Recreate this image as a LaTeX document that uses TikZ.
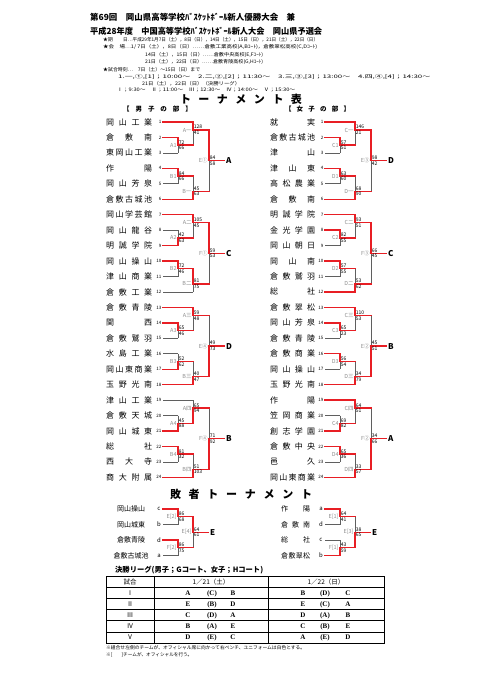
\documentclass[tikz,border=0pt]{standalone}
\usepackage{fontspec}
\setmainfont{Noto Sans CJK JP}
\newfontfamily\serifl{Liberation Serif}
\usepackage{graphicx}
\pgfdeclarelayer{bg}
\pgfsetlayers{bg,main}
\definecolor{wred}{RGB}{232,30,36}
\definecolor{lgray}{RGB}{95,95,95}
\definecolor{labc}{RGB}{140,140,140}
\newcount\ndc
\def\parsem#1/#2/#3\relax{\def\ml{#1}\def\mta{#2}\def\mtb{#3}}
\def\dd{15.45}
\def\spreadit#1#2\endsp{#1\ifx\relax#2\relax\else\hfill\spreadit#2\endsp\fi}
\newcommand{\hl}[4]{\ifnum#1=1\relax\draw[win] ({#2},{#4}) -- ({#3},{#4});\else\begin{pgfonlayer}{bg}\draw[lose] ({#2},{#4}) -- ({#3},{#4});\end{pgfonlayer}\fi}
\newcommand{\vm}[8]{%
  \ifnum#5=1\relax
    \draw[win] ({#1},{#2}) -- ({#1},{#4});
    \begin{pgfonlayer}{bg}\draw[lose] ({#1},{#4}) -- ({#1},{#3});\end{pgfonlayer}
  \else
    \begin{pgfonlayer}{bg}\draw[lose] ({#1},{#2}) -- ({#1},{#4});\end{pgfonlayer}
    \draw[win] ({#1},{#4}) -- ({#1},{#3});
  \fi
  \node[rlab] at ({#1-1.2},{#4}) {#6};
  \node[score,anchor=south west] at ({#1+0.4},{#4-0.6}) {#7};
  \node[score,anchor=north west] at ({#1+0.4},{#4+0.6}) {#8};
}
\newcommand{\blk}[8]{%
 \def\Y{#1}\def\dx{#2}%
 \parsem#4\relax\let\qlA\ml\let\qaA\mta\let\qbA\mtb\ifnum\mta>\mtb\relax\def\rA{1}\else\def\rA{0}\fi
 \parsem#5\relax\let\qlAA\ml\let\qaAA\mta\let\qbAA\mtb\ifnum\mta>\mtb\relax\def\rAA{1}\else\def\rAA{0}\fi
 \parsem#6\relax\let\qlB\ml\let\qaB\mta\let\qbB\mtb\ifnum\mta>\mtb\relax\def\rB{1}\else\def\rB{0}\fi
 \parsem#7\relax\let\qlBB\ml\let\qaBB\mta\let\qbBB\mtb\ifnum\mta>\mtb\relax\def\rBB{1}\else\def\rBB{0}\fi
 \parsem#8\relax\let\qlE\ml\let\qaE\mta\let\qbE\mtb\ifnum\mta>\mtb\relax\def\rE{1}\else\def\rE{0}\fi
 \hl{\rAA}{163+\dx}{193+\dx}{\Y}
 \hl{\rA}{163+\dx}{178+\dx}{\Y+\dd}
 \hl{\the\numexpr1-\rA\relax}{163+\dx}{178+\dx}{\Y+2*\dd}
 \hl{\rB}{163+\dx}{178+\dx}{\Y+3*\dd}
 \hl{\the\numexpr1-\rB\relax}{163+\dx}{178+\dx}{\Y+4*\dd}
 \hl{\the\numexpr1-\rBB\relax}{163+\dx}{193+\dx}{\Y+5*\dd}
 \hl{1}{178+\dx}{193+\dx}{\Y+1.5*\dd}
 \hl{1}{193+\dx}{209+\dx}{\Y+8}
 \hl{1}{178+\dx}{193+\dx}{\Y+3.5*\dd}
 \hl{1}{193+\dx}{209+\dx}{\Y+5*\dd-8}
 \hl{1}{209+\dx}{224+\dx}{\Y+2.5*\dd}
 \vm{178+\dx}{\Y+\dd}{\Y+2*\dd}{\Y+1.5*\dd}{\rA}{\qlA}{\qaA}{\qbA}
 \vm{193+\dx}{\Y}{\Y+1.5*\dd}{\Y+8}{\rAA}{\qlAA}{\qaAA}{\qbAA}
 \vm{178+\dx}{\Y+3*\dd}{\Y+4*\dd}{\Y+3.5*\dd}{\rB}{\qlB}{\qaB}{\qbB}
 \vm{193+\dx}{\Y+3.5*\dd}{\Y+5*\dd}{\Y+5*\dd-8}{\rBB}{\qlBB}{\qaBB}{\qbBB}
 \vm{209+\dx}{\Y+8}{\Y+5*\dd-8}{\Y+2.5*\dd}{\rE}{\qlE}{\qaE}{\qbE}
 \node[outl] at ({226+\dx},{\Y+2.5*\dd}) {#3};
}
\newcommand{\tmm}[2]{\node[tname] at (106,{122+(#1-1)*\dd}) {\makebox[46pt][s]{\expandafter\spreadit#2\endsp}};
  \node[seed] at (161.5,{122+(#1-1)*\dd}) {#1};}
\newcommand{\tmw}[2]{\node[tname] at (270,{122+(#1-1)*\dd}) {\makebox[45pt][s]{\expandafter\spreadit#2\endsp}};
  \node[seed] at (323.5,{122+(#1-1)*\dd}) {#1};}
\begin{document}
\begin{tikzpicture}[x=1pt,y=-1pt,
  autoname/.code={\global\advance\ndc by 1\relax\edef\tmpnm{nd\the\ndc}\pgfkeysalso{/tikz/name/.expand once=\tmpnm}},
  every node/.append style={autoname},
  win/.style={draw=wred,line width=1.4pt,line cap=rect},
  lose/.style={draw=lgray,line width=0.7pt},
  tname/.style={font=\fontsize{8}{8}\selectfont,inner sep=0pt,anchor=west},
  seed/.style={font=\fontsize{4.5}{5}\selectfont,inner sep=0pt,anchor=east},
  score/.style={font=\fontsize{5}{5}\selectfont,inner sep=0.2pt},
  rlab/.style={font=\fontsize{5.5}{6}\selectfont,text=labc,inner sep=0pt,anchor=east},
  outl/.style={font=\bfseries\fontsize{8}{8}\selectfont,inner sep=0pt,anchor=west},
  hd/.style={font=\bfseries\fontsize{8.4}{9}\selectfont,inner sep=0pt,anchor=west},
  sm/.style={font=\fontsize{4.8}{5}\selectfont,inner sep=0pt,anchor=west},
  ttl/.style={font=\bfseries\fontsize{11}{11}\selectfont,inner sep=0pt},
  sub/.style={font=\bfseries\fontsize{6.5}{7}\selectfont,inner sep=0pt},
  lname/.style={font=\fontsize{7}{7}\selectfont,inner sep=0pt},
  lett/.style={font=\fontsize{6}{6}\selectfont,inner sep=0pt},
  tcell/.style={font=\fontsize{6.5}{7}\selectfont,inner sep=0pt,anchor=base},
  tlet/.style={font=\serifl\bfseries\fontsize{7}{7}\selectfont,inner sep=0pt,anchor=base},
  fn/.style={font=\fontsize{4.7}{5}\selectfont,inner sep=0pt,anchor=west}]
\useasboundingbox (0,0) rectangle (481,680);
% ---------- header ----------
\node[hd] at (90,17) {\resizebox{205pt}{\height}{第69回　岡山県高等学校ﾊﾞｽｹｯﾄﾎﾞｰﾙ新人優勝大会　兼}};
\node[hd] at (90,31) {\resizebox{232pt}{\height}{平成28年度　中国高等学校ﾊﾞｽｹｯﾄﾎﾞｰﾙ新人大会　岡山県予選会}};
\node[sm] at (103,39.5) {★期};
\node[sm] at (123,39.5) {\resizebox{195pt}{\height}{日…平成29年1月7日（土），8日（日），14日（土），15日（日），21日（土），22日（日）}};
\node[sm] at (103,47) {\resizebox{214pt}{\height}{★会　場…1/ 7日（土），8日（日）……倉敷工業高校(A,Bｺｰﾄ)，倉敷翠松高校(C,Dｺｰﾄ)}};
\node[sm] at (145,54.5) {\resizebox{118pt}{\height}{14日（土），15日（日）……倉敷中央高校(E,Fｺｰﾄ)}};
\node[sm] at (145,62) {\resizebox{118pt}{\height}{21日（土），22日（日）……倉敷青陵高校(G,Hｺｰﾄ)}};
\node[sm] at (103,69.5) {\resizebox{97pt}{\height}{★試合時刻…　7日（土）～15日（日）まで}};
\node[sm] at (118,77) {\resizebox{312pt}{\height}{1.一,①,[1]；10:00～　2.二,②,[2]；11:30～　3.三,③,[3]；13:00～　4.四,④,[4]；14:30～}};
\node[sm] at (142,84) {\resizebox{98pt}{\height}{21日（土），22日（日）（決勝リーグ）}};
\node[sm] at (117,90) {\resizebox{178pt}{\height}{Ⅰ；9:30～　Ⅱ；11:00～　Ⅲ；12:30～　Ⅳ；14:00～　Ⅴ；15:30～}};
% ---------- titles ----------
\node[ttl] at (241,99.5) {\makebox[122pt][s]{\spreadit トーナメント表\endsp}};
\node[sub] at (157.5,109) {\makebox[69pt][s]{\spreadit 【男子の部】\endsp}};
\node[sub] at (317.5,109) {\makebox[65pt][s]{\spreadit 【女子の部】\endsp}};
% ---------- teams ----------
\foreach \n/\s in {1/岡山工業,2/倉敷南,3/東岡山工業,4/作陽,5/岡山芳泉,6/倉敷古城池,7/岡山学芸館,8/岡山龍谷,9/明誠学院,10/岡山操山,11/津山商業,12/倉敷工業,13/倉敷青陵,14/関西,15/倉敷鷲羽,16/水島工業,17/岡山東商業,18/玉野光南,19/津山工業,20/倉敷天城,21/岡山城東,22/総社,23/西大寺,24/商大附属}{\tmm{\n}{\s}}
\foreach \n/\s in {1/就実,2/倉敷古城池,3/津山,4/津山東,5/高松農業,6/倉敷南,7/明誠学院,8/金光学園,9/岡山朝日,10/岡山南,11/倉敷鷲羽,12/総社,13/倉敷翠松,14/岡山芳泉,15/倉敷青陵,16/倉敷商業,17/岡山操山,18/玉野光南,19/作陽,20/笠岡商業,21/創志学園,22/倉敷中央,23/邑久,24/岡山東商業}{\tmw{\n}{\s}}
% ---------- brackets ----------
\blk{122}{0}{A}{A1/72/66}{A一/128/41}{B1/84/66}{B一/45/63}{E①/84/58}
\blk{214.7}{0}{C}{A2/42/63}{A二/105/45}{B2/72/46}{B二/81/75}{F①/59/53}
\blk{307.4}{0}{D}{A3/65/46}{A三/59/48}{B3/52/62}{B三/40/47}{E④/49/73}
\blk{400.1}{0}{B}{A4/45/88}{A四/65/94}{B4/81/32}{B四/51/103}{F④/71/92}
\blk{122}{162}{D}{C1/57/51}{C一/146/21}{D1/63/60}{D一/68/90}{E③/98/42}
\blk{214.7}{162}{C}{C2/82/55}{C二/93/51}{D2/57/55}{D二/53/62}{F③/66/45}
\blk{307.4}{162}{B}{C3/65/23}{C三/110/53}{D3/56/54}{D三/34/79}{E②/45/51}
\blk{400.1}{162}{A}{C4/69/82}{C四/64/51}{D4/65/36}{D四/33/57}{F②/34/66}
% ---------- losers' tournament ----------
\node[ttl] at (241,494) {\makebox[142pt][s]{\spreadit 敗者トーナメント\endsp}};
\node[lname] at (131,509) {岡山操山};
\node[lname] at (131,524.5) {岡山城東};
\node[lname] at (131,540) {倉敷青陵};
\node[lname] at (131,555.5) {倉敷古城池};
\node[lett] at (159,509) {c};
\node[lett] at (159,524.5) {b};
\node[lett] at (159,540) {d};
\node[lett] at (159,555.5) {a};
\hl{1}{163}{178}{509}
\hl{0}{163}{178}{524.5}
\hl{1}{163}{178}{540}
\hl{0}{163}{178}{555.5}
\hl{1}{178}{193}{516.75}
\hl{1}{178}{193}{547.75}
\hl{1}{193}{208}{532.25}
\vm{178}{509}{524.5}{516.75}{1}{E[2]}{86}{68}
\vm{178}{540}{555.5}{547.75}{1}{F[2]}{86}{75}
\vm{193}{516.75}{547.75}{532.25}{1}{E[4]}{64}{61}
\node[outl] at (210,532.25) {E};
\node[lname,anchor=west] at (281,509) {\makebox[29pt][s]{\spreadit 作陽\endsp}};
\node[lname,anchor=west] at (281,524.5) {\makebox[29pt][s]{\spreadit 倉敷南\endsp}};
\node[lname,anchor=west] at (281,540) {\makebox[29pt][s]{\spreadit 総社\endsp}};
\node[lname,anchor=west] at (281,555.5) {\makebox[29pt][s]{\spreadit 倉敷翠松\endsp}};
\node[lett] at (321,509) {a};
\node[lett] at (321,524.5) {d};
\node[lett] at (321,540) {c};
\node[lett] at (321,555.5) {b};
\hl{1}{325}{340}{509}
\hl{0}{325}{340}{524.5}
\hl{0}{325}{340}{540}
\hl{1}{325}{340}{555.5}
\hl{1}{340}{355}{516.75}
\hl{1}{340}{355}{547.75}
\hl{1}{355}{370}{532.25}
\vm{340}{509}{524.5}{516.75}{1}{E[1]}{64}{41}
\vm{340}{540}{555.5}{547.75}{0}{F[1]}{43}{59}
\vm{355}{516.75}{547.75}{532.25}{0}{E[3]}{38}{65}
\node[outl] at (372,532.25) {E};
% ---------- final league ----------
\node[font=\bfseries\fontsize{7.3}{8}\selectfont,inner sep=0pt,anchor=west] at (115,570) {\resizebox{148pt}{\height}{決勝リーグ(男子；Gコート、女子；Hコート)}};
\draw[line width=0.9pt] (106,576) rectangle (384,643);
\foreach \k in {1,...,5}{\draw[line width=0.6pt] (106,{576+\k*11.1667}) -- (384,{576+\k*11.1667});}
\draw[line width=0.6pt] (154,576) -- (154,643);
\draw[line width=0.6pt] (268,576) -- (268,643);
\node[tcell] at (130,584) {試合};
\node[tcell] at (211,584) {1／21（土）};
\node[tcell] at (326,584) {1／22（日）};
\foreach \k/\r/\a/\b/\c/\d/\e/\f in {1/Ⅰ/A/C/B/B/D/C,2/Ⅱ/E/B/D/E/C/A,3/Ⅲ/C/D/A/D/A/B,4/Ⅳ/B/A/E/C/B/E,5/Ⅴ/D/E/C/A/E/D}{
  \node[tcell] at (130,{576+(\k+0.5)*11.1667+2.4}) {\r};
  \node[tlet] at (188,{576+(\k+0.5)*11.1667+2.4}) {\a};
  \node[tlet] at (212,{576+(\k+0.5)*11.1667+2.4}) {(\b)};
  \node[tlet] at (233,{576+(\k+0.5)*11.1667+2.4}) {\c};
  \node[tlet] at (303,{576+(\k+0.5)*11.1667+2.4}) {\d};
  \node[tlet] at (325,{576+(\k+0.5)*11.1667+2.4}) {(\e)};
  \node[tlet] at (348,{576+(\k+0.5)*11.1667+2.4}) {\f};
}
\node[fn] at (106,647.5) {\resizebox{199pt}{\height}{※組合せ左側のチームが、オフィシャル席に向かって右ベンチ、ユニフォームは白色とする。}};
\node[fn] at (106,655) {\resizebox{86pt}{\height}{※[　　]チームが、オフィシャルを行う。}};
\end{tikzpicture}
\end{document}
